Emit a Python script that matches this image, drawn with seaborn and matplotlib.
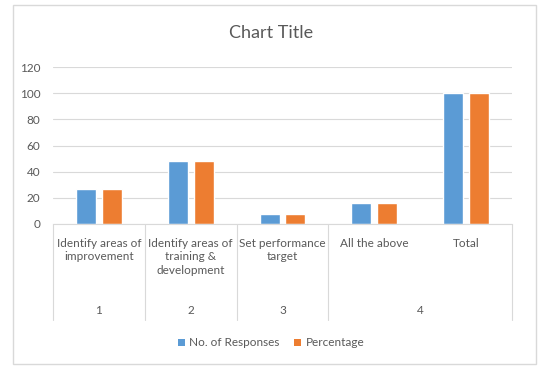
import matplotlib
matplotlib.use("Agg")
import matplotlib.pyplot as plt
import matplotlib.transforms as mtransforms
from matplotlib.patches import Rectangle, Patch
import seaborn as sns
import pandas as pd

categories = ["Identify areas of\nimprovement", "Identify areas of\ntraining &\ndevelopment",
              "Set performance\ntarget", "All the above", "Total"]
groups = ["1", "2", "3", "4"]
group_spans = [(0, 0), (1, 1), (2, 2), (3, 4)]
responses = [27, 48, 8, 16, 100]
percentage = [27, 48, 8, 16, 100]
series = ["No. of Responses", "Percentage"]
colors = ["#5B9BD5", "#ED7D31"]

df = pd.DataFrame({
    "cat": categories * 2,
    "val": responses + percentage,
    "series": [series[0]] * len(categories) + [series[1]] * len(categories),
})

sns.set_theme(style="white")
plt.rcParams["font.family"] = ["Lato", "DejaVu Sans"]
text_color = "#595959"

W, H = 542, 369
fig = plt.figure(figsize=(W / 100, H / 100), dpi=100)
ax = fig.add_axes([53 / W, 1 - 224 / H, (512 - 53) / W, (224 - 67) / H])

sns.barplot(data=df, x="cat", y="val", hue="series", palette=colors, ax=ax,
            width=0.566, gap=0.23, legend=False, saturation=1)

ax.set_ylim(0, 120)
ax.set_xlim(-0.5, len(categories) - 0.5)
ax.set_yticks(range(0, 121, 20))
ax.yaxis.grid(True, color="#D9D9D9", linewidth=0.8)
ax.set_axisbelow(True)
for s in ["top", "right", "left"]:
    ax.spines[s].set_visible(False)
ax.spines["bottom"].set_color("#D9D9D9")
ax.spines["bottom"].set_linewidth(0.8)
ax.set_xlabel("")
ax.set_ylabel("")
ax.set_xticks([])
ax.tick_params(axis="y", length=0, labelsize=8.5, labelcolor=text_color, pad=9)

trans = mtransforms.blended_transform_factory(ax.transData, ax.transAxes)
ah = 224 - 67
for i, c in enumerate(categories):
    ax.text(i, (224 - 238) / ah, c, transform=trans, ha="center", va="top",
            fontsize=8.5, color=text_color, linespacing=1.25)
bounds = [-0.5] + [s[1] + 0.5 for s in group_spans]
for b in bounds:
    ax.plot([b, b], [0, (224 - 320) / ah], transform=trans, color="#D9D9D9",
            linewidth=0.8, clip_on=False)
for g, (a, b) in zip(groups, group_spans):
    ax.text((a + b) / 2, (224 - 311) / ah, g, transform=trans, ha="center",
            va="center", fontsize=8.5, color=text_color)

fig.text(0.5, 1 - 33 / H, "Chart Title", ha="center", va="center",
         fontsize=13, color=text_color)

handles = [Patch(facecolor=c, edgecolor="none") for c in colors]
fig.legend(handles, series, loc="center", bbox_to_anchor=(0.5, 1 - 343 / H),
           ncol=2, frameon=False, fontsize=8.5, labelcolor=text_color,
           handlelength=0.6, handleheight=0.6, handletextpad=0.4, columnspacing=1.2)

fig.patches.append(Rectangle((13 / W, 1 - 364 / H), (536 - 13) / W, (364 - 5) / H,
                             transform=fig.transFigure, fill=False,
                             edgecolor="#D9D9D9", linewidth=1))

fig.savefig("out.png", dpi=100)
